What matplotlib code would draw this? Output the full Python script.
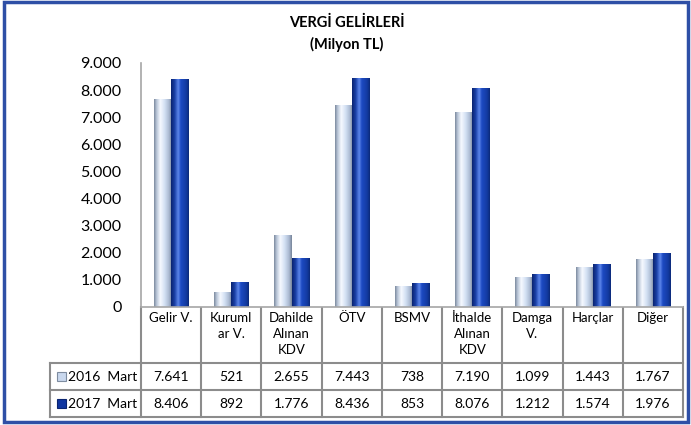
import numpy as np
import matplotlib.pyplot as plt
from matplotlib.colors import LinearSegmentedColormap
from matplotlib.patches import Rectangle
from matplotlib.ticker import FuncFormatter, MultipleLocator

categories = ["Gelir V.", "Kuruml\nar V.", "Dahilde\nAlınan\nKDV", "ÖTV", "BSMV",
              "İthalde\nAlınan\nKDV", "Damga\nV.", "Harçlar", "Diğer"]
mart_2016 = [7641, 521, 2655, 7443, 738, 7190, 1099, 1443, 1767]
mart_2017 = [8406, 892, 1776, 8436, 853, 8076, 1212, 1574, 1976]
series_names = ["2016  Mart", "2017  Mart"]

plt.rcParams["font.family"] = ["Lato", "DejaVu Sans"]

W, H = 691, 425
fig = plt.figure(figsize=(W / 100, H / 100), dpi=100)


def px(x0, y0, x1, y1):
    # pixel box (top-left origin) -> figure fraction
    return [x0 / W, 1 - y1 / H, (x1 - x0) / W, (y1 - y0) / H]


def thousands(v):
    return f"{v:,.0f}".replace(",", ".")


# cylinder-like shading for the two series
cmap16 = LinearSegmentedColormap.from_list("c16", [
    (0, "#7E8CA0"), (0.15, "#BCC8DA"), (0.35, "#F6F9FF"),
    (0.6, "#D3E0F3"), (0.85, "#A9B8D0"), (1, "#78859A")])
cmap17 = LinearSegmentedColormap.from_list("c17", [
    (0, "#0A2470"), (0.2, "#1A3FA6"), (0.4, "#5C86EA"),
    (0.55, "#1D4AC2"), (0.85, "#133BA2"), (1, "#0B2A7A")])
grad = np.linspace(0, 1, 64).reshape(1, -1)

ax = fig.add_axes(px(141, 63, 683, 307))
bw = 0.285
x = np.arange(len(categories))
for xi, v16, v17 in zip(x, mart_2016, mart_2017):
    ax.imshow(grad, extent=(xi - bw, xi, 0, v16), aspect="auto", cmap=cmap16, zorder=2)
    ax.imshow(grad, extent=(xi, xi + bw, 0, v17), aspect="auto", cmap=cmap17, zorder=2)

ax.set_xlim(-0.5, len(categories) - 0.5)
ax.set_ylim(0, 9000)
ax.yaxis.set_major_locator(MultipleLocator(1000))
ax.yaxis.set_major_formatter(FuncFormatter(lambda v, p: thousands(v)))
ax.set_xticks([])
ax.tick_params(axis="y", length=0, labelsize=11.5, pad=14, colors="black")
for s in ["top", "right"]:
    ax.spines[s].set_visible(False)
for s in ["left", "bottom"]:
    ax.spines[s].set_color("#A6A6A6")
    ax.spines[s].set_linewidth(1.2)

# data table + title + frame on an overlay in pixel coordinates
tab = fig.add_axes([0, 0, 1, 1], zorder=-1)
tab.set_xlim(0, W)
tab.set_ylim(H, 0)
tab.axis("off")

lc, lw = "#8C8C8C", 1.5
edges = np.linspace(141, 683, len(categories) + 1)
rows = [307, 363, 390, 417]
for xe in edges:
    tab.plot([xe, xe], [rows[0], rows[-1]], color=lc, lw=lw)
tab.plot([50, 50], [rows[1], rows[-1]], color=lc, lw=lw)
for yr in rows[1:]:
    tab.plot([50, 683], [yr, yr], color=lc, lw=lw)

centers = (edges[:-1] + edges[1:]) / 2
for cx, cat, v16, v17 in zip(centers, categories, mart_2016, mart_2017):
    tab.text(cx, 312, cat, ha="center", va="top", fontsize=9.5, linespacing=1.4)
    tab.text(cx, 377, thousands(v16), ha="center", va="center", fontsize=10)
    tab.text(cx, 404, thousands(v17), ha="center", va="center", fontsize=10)

tab.add_patch(Rectangle((57, 372), 9, 9, facecolor="#C9D8EE", edgecolor="#7E8CA0", lw=0.8))
tab.add_patch(Rectangle((57, 399), 9, 9, facecolor="#0F35A0", edgecolor="#0A2470", lw=0.8))
tab.text(68, 377, series_names[0], ha="left", va="center", fontsize=10)
tab.text(68, 404, series_names[1], ha="left", va="center", fontsize=10)

tab.text(347, 23, "VERGİ GELİRLERİ", ha="center", va="center", fontsize=10.5, fontweight="bold")
tab.text(347, 44, "(Milyon TL)", ha="center", va="center", fontsize=10.5, fontweight="bold")

tab.add_patch(Rectangle((4, 1.5), 684, 420, facecolor="none", edgecolor="#2E4FA6", lw=2.5))

fig.savefig("out.png", dpi=100)
